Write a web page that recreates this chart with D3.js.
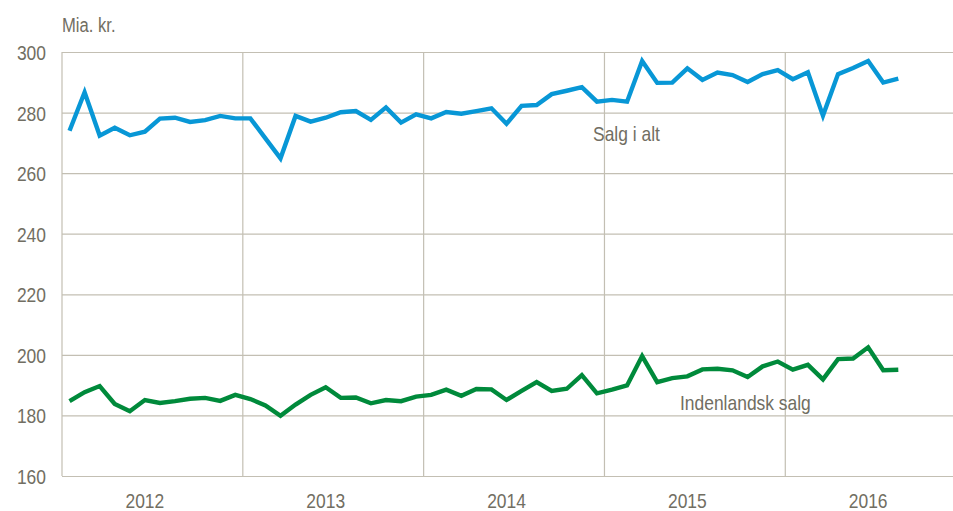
<!DOCTYPE html>
<html>
<head>
<meta charset="utf-8">
<script src="https://cdn.jsdelivr.net/npm/d3@7"></script>
<style>
    body { margin: 0; background: #fff; }
    svg text { font-family: "Liberation Sans Narrow", "Arial Narrow", "Liberation Sans", Arial, sans-serif; fill: #716e62; }
    .grid line, .grid path { stroke: #c3bfb3; stroke-width: 1.2; }
</style>
</head>
<body>
<div id="chart"></div>
<script>
// monthly, Jan 2012 - Aug 2016
const years = ['2012', '2013', '2014', '2015', '2016'];
const yTicks = [160, 180, 200, 220, 240, 260, 280, 300];

const salgIAlt = [
    274.0, 286.7, 272.4, 275.0, 272.5, 273.7, 278.0, 278.3, 276.9, 277.5, 278.9, 278.1,
    278.1, 271.5, 264.9, 278.9, 277.0, 278.3, 280.1, 280.5, 277.6, 281.7, 276.7, 279.4,
    278.1, 280.2, 279.6, 280.5, 281.4, 276.3, 282.2, 282.5, 286.1, 287.2, 288.4, 283.6,
    284.2, 283.6, 297.0, 289.8, 289.9, 294.6, 290.8, 293.2, 292.4, 290.1, 292.7, 294.0,
    291.0, 293.3, 279.0, 292.7, 294.7, 297.0, 289.9, 291.2
];
const indenlandskSalg = [
    184.7, 187.7, 189.7, 183.8, 181.4, 185.1, 184.1, 184.7, 185.5, 185.8, 184.8, 186.8,
    185.4, 183.3, 179.9, 183.6, 186.8, 189.3, 185.8, 185.9, 184.0, 185.1, 184.7, 186.2,
    186.8, 188.5, 186.5, 188.7, 188.6, 185.1, 188.1, 191.0, 188.1, 188.8, 193.3, 187.3,
    188.5, 189.9, 199.6, 191.0, 192.3, 192.9, 195.2, 195.4, 194.9, 192.7, 196.2, 197.8,
    195.1, 196.7, 191.9, 198.6, 198.8, 202.5, 194.9, 195.1
];

const width = 953, height = 511;
const m = { left: 62, right: 953, top: 52, bottom: 476 };

const svg = d3.select('#chart').append('svg')
    .attr('width', width)
    .attr('height', height);

// x in months from Jan 2012
const x = d3.scaleLinear().domain([0, 59.13]).range([m.left, m.right]);
const y = d3.scaleLinear().domain([160, 300]).range([m.bottom, m.top]);

// horizontal grid + y labels
const yAxis = svg.append('g')
    .attr('class', 'grid')
    .attr('transform', `translate(${m.left},0)`)
    .call(d3.axisLeft(y).tickValues(yTicks).tickSize(-(m.right - m.left)).tickSizeOuter(0).tickPadding(16));
yAxis.select('.domain').remove();
yAxis.selectAll('text').attr('font-size', 21).attr('dy', '0.36em');

// vertical year separators
const seps = [0, 12, 24, 36, 48];
svg.append('g').attr('class', 'grid')
    .selectAll('line')
    .data(seps)
    .enter().append('line')
    .attr('x1', d => x(d)).attr('x2', d => x(d))
    .attr('y1', y(300)).attr('y2', y(160));

// year labels, centred on June
svg.append('g')
    .selectAll('text')
    .data(years)
    .enter().append('text')
    .attr('x', (d, i) => x(i * 12 + 5.5))
    .attr('y', 508)
    .attr('text-anchor', 'middle')
    .attr('font-size', 21)
    .text(d => d);

svg.append('text')
    .attr('x', 62).attr('y', 32)
    .attr('font-size', 20)
    .text('Mia. kr.');

const line = d3.line()
    .x((d, i) => x(i + 0.5))
    .y(d => y(d));

svg.append('path')
    .datum(salgIAlt)
    .attr('fill', 'none')
    .attr('stroke', '#0897d6')
    .attr('stroke-width', 4.4)
    .attr('d', line);

svg.append('path')
    .datum(indenlandskSalg)
    .attr('fill', 'none')
    .attr('stroke', '#008a3b')
    .attr('stroke-width', 4.4)
    .attr('d', line);

svg.append('text')
    .attr('x', 593).attr('y', 141)
    .attr('font-size', 21)
    .text('Salg i alt');

svg.append('text')
    .attr('x', 680).attr('y', 410)
    .attr('font-size', 21)
    .text('Indenlandsk salg');

// no narrow font installed, so squeeze the text a bit
svg.selectAll('text').each(function() {
    const w = this.getComputedTextLength();
    d3.select(this).attr('textLength', w * 0.83).attr('lengthAdjust', 'spacingAndGlyphs');
});
</script>
</body>
</html>
